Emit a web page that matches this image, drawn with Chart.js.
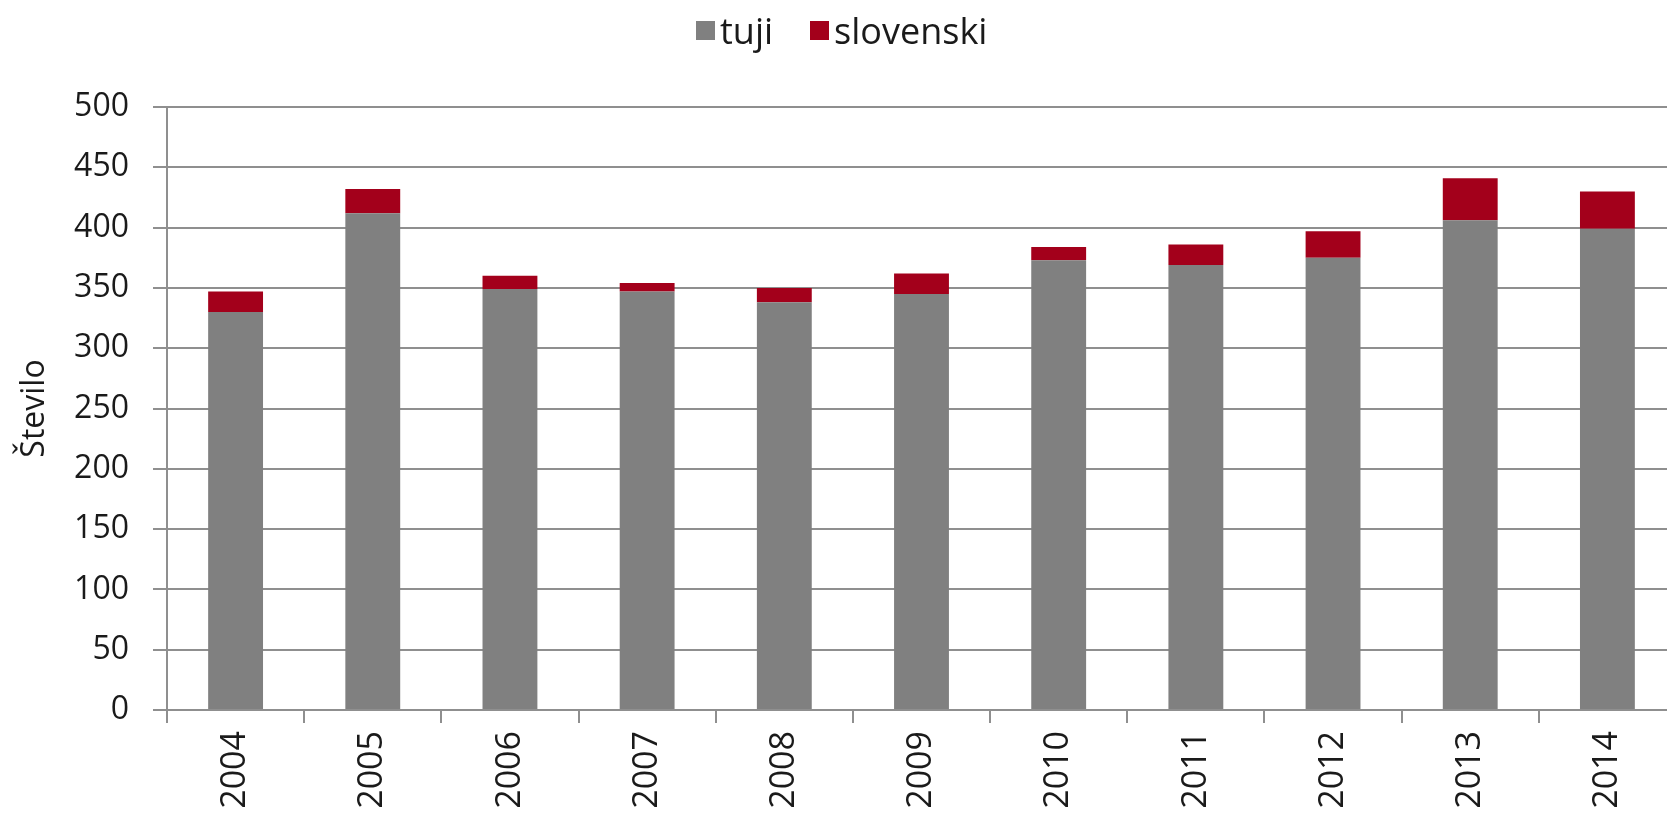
<!DOCTYPE html>
<html>
<head>
<meta charset="utf-8">
<script src="https://cdn.jsdelivr.net/npm/chart.js@4.4.0/dist/chart.umd.min.js"></script>
<style>
  body { margin: 0; background: #fff; overflow: hidden; }
  #wrap { position: relative; width: 1676px; height: 825px; }
  #legend {
    position: absolute; top: 6px; left: 696px;
    display: flex; align-items: center;
    font-family: "Open Sans", sans-serif; font-size: 36px; color: #1a1a1a;
  }
  #legend .box { width: 19px; height: 19px; display: inline-block; margin-right: 5px; }
  #legend .item { display: flex; align-items: center; margin-right: 37px; }
</style>
</head>
<body>
<div id="wrap">
  <canvas id="chart" width="1676" height="825"></canvas>
  <div id="legend"></div>
</div>
<script>
const years = ['2004', '2005', '2006', '2007', '2008', '2009', '2010', '2011', '2012', '2013', '2014'];
const tuji = [330, 412, 349, 347, 338, 345, 373, 369, 375, 406, 399];
const slovenski = [17, 20, 11, 7, 12, 17, 11, 17, 22, 35, 31];
const seriesNames = ['tuji', 'slovenski'];
const seriesColors = ['#808080', '#a3001b'];

const gridColor = '#8f8f8f';
const textColor = '#1a1a1a';
const fontFamily = '"Open Sans", sans-serif';

// legend as plain html, so the box/text gap matches
const legendEl = document.getElementById('legend');
seriesNames.forEach((name, i) => {
    const item = document.createElement('span');
    item.className = 'item';
    const box = document.createElement('span');
    box.className = 'box';
    box.style.background = seriesColors[i];
    item.appendChild(box);
    item.appendChild(document.createTextNode(name));
    legendEl.appendChild(item);
});

const ctx = document.getElementById('chart').getContext('2d');
new Chart(ctx, {
    type: 'bar',
    data: {
        labels: years,
        datasets: [
            { label: seriesNames[0], data: tuji, backgroundColor: seriesColors[0] },
            { label: seriesNames[1], data: slovenski, backgroundColor: seriesColors[1] }
        ]
    },
    options: {
        responsive: false,
        animation: false,
        layout: { padding: { top: 107, left: 0, right: 0, bottom: 0 } },
        datasets: { bar: { categoryPercentage: 1.0, barPercentage: 0.40 } },
        plugins: {
            legend: { display: false },
            tooltip: { enabled: false }
        },
        scales: {
            x: {
                stacked: true,
                grid: { display: true, drawOnChartArea: false, drawTicks: true, tickLength: 13, color: gridColor, lineWidth: 2 },
                border: { display: true, color: gridColor, width: 2 },
                ticks: {
                    minRotation: 90, maxRotation: 90, padding: 8,
                    color: textColor,
                    font: { family: fontFamily, size: 34 }
                },
                afterFit: scale => { scale.height = 115; }
            },
            y: {
                stacked: true,
                min: 0, max: 500,
                grid: { color: gridColor, lineWidth: 2, tickLength: 14 },
                border: { display: true, color: gridColor, width: 2 },
                ticks: {
                    stepSize: 50, padding: 24,
                    color: textColor,
                    font: { family: fontFamily, size: 32 }
                },
                title: {
                    display: true, text: 'Število',
                    color: textColor,
                    font: { family: fontFamily, size: 32 },
                    padding: { top: 16, bottom: 0 }
                },
                afterFit: scale => { scale.width = 167; }
            }
        }
    }
});
</script>
</body>
</html>
